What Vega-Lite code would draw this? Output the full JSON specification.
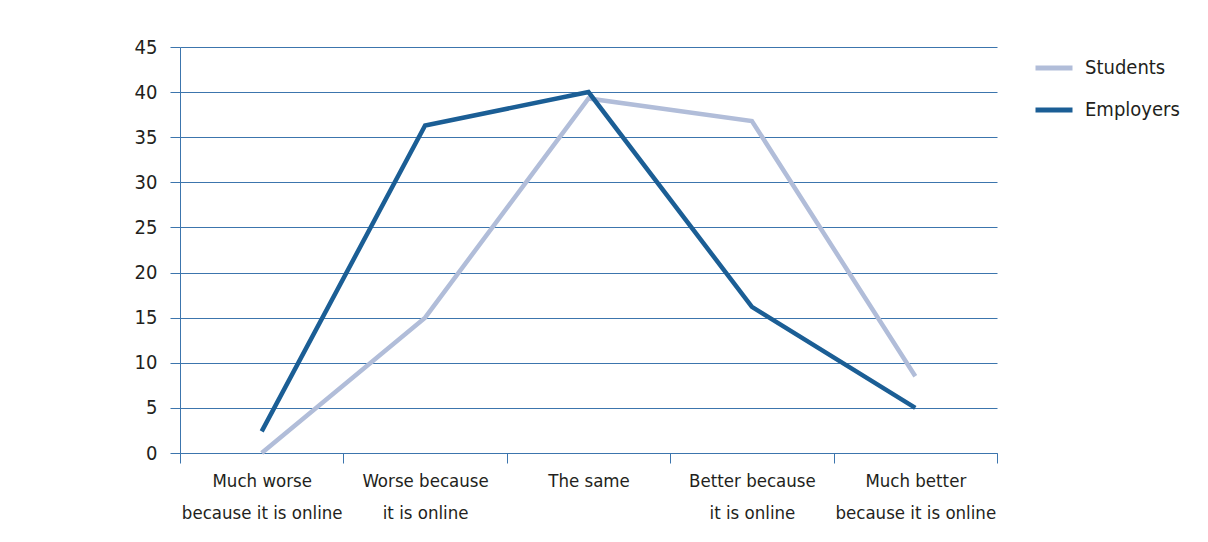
{
  "$schema": "https://vega.github.io/schema/vega-lite/v6.json",
  "autosize": "none",
  "width": 817,
  "height": 406,
  "padding": {"left": 180, "top": 47, "right": 211, "bottom": 89},
  "background": "white",
  "config": {
    "view": {"stroke": null},
    "font": "DejaVu Sans Condensed, Roboto, sans-serif"
  },
  "data": {
    "values": [
      {"response": "Much worse because it is online", "group": "Students", "percent": 0},
      {"response": "Worse because it is online", "group": "Students", "percent": 15},
      {"response": "The same", "group": "Students", "percent": 39.3},
      {"response": "Better because it is online", "group": "Students", "percent": 36.8},
      {"response": "Much better because it is online", "group": "Students", "percent": 8.5},
      {"response": "Much worse because it is online", "group": "Employers", "percent": 2.4},
      {"response": "Worse because it is online", "group": "Employers", "percent": 36.3},
      {"response": "The same", "group": "Employers", "percent": 40},
      {"response": "Better because it is online", "group": "Employers", "percent": 16.2},
      {"response": "Much better because it is online", "group": "Employers", "percent": 5}
    ]
  },
  "mark": {"type": "line", "strokeWidth": 4.5, "strokeCap": "butt", "strokeJoin": "miter"},
  "encoding": {
    "x": {
      "field": "response",
      "type": "nominal",
      "sort": null,
      "scale": {"type": "band", "paddingInner": 0, "paddingOuter": 0},
      "axis": {
        "title": null,
        "labelAngle": 0,
        "tickBand": "extent",
        "domainColor": "#3c75ad",
        "tickColor": "#3c75ad",
        "tickSize": 10,
        "labelFontSize": 18.5,
        "labelColor": "#231f20",
        "labelPadding": 8,
        "labelLineHeight": 32,
        "labelBaseline": "top",
        "labelExpr": "datum.label == 'Much worse because it is online' ? ['Much worse', 'because it is online'] : datum.label == 'Worse because it is online' ? ['Worse because', 'it is online'] : datum.label == 'Better because it is online' ? ['Better because', 'it is online'] : datum.label == 'Much better because it is online' ? ['Much better', 'because it is online'] : datum.label"
      }
    },
    "y": {
      "field": "percent",
      "type": "quantitative",
      "scale": {"domain": [0, 45], "nice": false},
      "axis": {
        "title": null,
        "values": [0, 5, 10, 15, 20, 25, 30, 35, 40, 45],
        "domainColor": "#3c75ad",
        "tickColor": "#3c75ad",
        "gridColor": "#3c75ad",
        "gridOpacity": 1,
        "tickSize": 10,
        "labelFontSize": 20,
        "labelColor": "#231f20",
        "labelPadding": 13
      }
    },
    "color": {
      "field": "group",
      "type": "nominal",
      "scale": {"domain": ["Students", "Employers"], "range": ["#b1bdd9", "#1b5e95"]},
      "legend": {
        "title": null,
        "orient": "right",
        "offset": 36,
        "symbolType": "stroke",
        "symbolStrokeWidth": 5,
        "symbolSize": 1369,
        "rowPadding": 11,
        "labelFontSize": 20,
        "labelColor": "#231f20",
        "labelOffset": 10
      }
    }
  }
}
